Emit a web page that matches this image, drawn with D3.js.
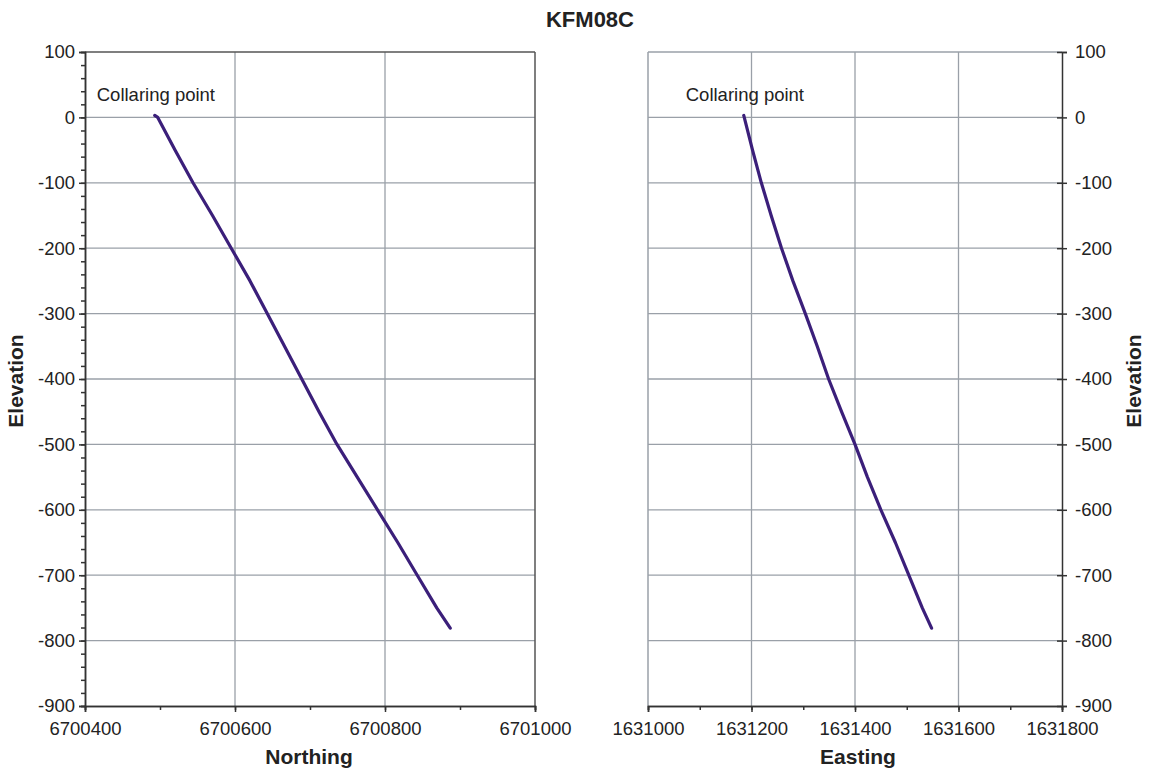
<!DOCTYPE html>
<html>
<head>
<meta charset="utf-8">
<script src="https://cdn.jsdelivr.net/npm/d3@7"></script>
<style>
  body { margin: 0; background: #fff; }
  text { font-family: "Liberation Sans", Arial, sans-serif; fill: #222; }
</style>
</head>
<body>
<svg width="1152" height="769"></svg>
<script>
// borehole KFM08C, elevation vs. northing / easting
const elevation = [3, 0, -50, -100, -150, -200, -250, -300, -350, -400, -450, -500, -550, -600, -650, -700, -750, -781];
const northing = [6700493, 6700497, 6700520, 6700544, 6700570, 6700595, 6700620, 6700643, 6700666, 6700689,
                  6700712, 6700736, 6700763, 6700790, 6700817, 6700843, 6700869, 6700887];
const easting = [1631185, 1631186, 1631202, 1631219, 1631238, 1631258, 1631280, 1631304, 1631327, 1631349,
                 1631374, 1631400, 1631424, 1631450, 1631478, 1631504, 1631530, 1631548];

const yTicks = [100, 0, -100, -200, -300, -400, -500, -600, -700, -800, -900];
const northTicks = [6700400, 6700600, 6700800, 6701000];
const eastTicks = [1631000, 1631200, 1631400, 1631600, 1631800];

var svg = d3.select("svg");
var lineColor = "#3b1f7a", gridColor = "#9aa0a8", axisColor = "#333";
var fmt = d => String(d);   // plain hyphen minus, like the original

var y = d3.scaleLinear().domain([-900, 100]).range([706, 52]);
var xN = d3.scaleLinear().domain([6700400, 6701000]).range([85, 535]);
var xE = d3.scaleLinear().domain([1631000, 1631800]).range([648, 1062]);

function panel(x, xs, ticks, yRight) {
    var g = svg.append("g");
    var x0 = x.range()[0], x1 = x.range()[1];

    // grid
    g.selectAll(".gx").data(ticks.slice(1, -1)).enter().append("line")
        .attr("x1", d => x(d)).attr("x2", d => x(d))
        .attr("y1", y(100)).attr("y2", y(-900))
        .attr("stroke", gridColor).attr("stroke-width", 1.3);
    g.selectAll(".gy").data(yTicks.slice(1, -1)).enter().append("line")
        .attr("x1", x0).attr("x2", x1)
        .attr("y1", d => y(d)).attr("y2", d => y(d))
        .attr("stroke", gridColor).attr("stroke-width", 1.3);

    // frame
    var frame = yRight ? gridColor : "#555";
    var fx = yRight ? x0 : x1;
    g.append("line").attr("x1", fx).attr("x2", fx).attr("y1", y(100)).attr("y2", y(-900)).attr("stroke", frame).attr("stroke-width", 1.5);
    g.append("line").attr("x1", x0).attr("x2", x1).attr("y1", y(100)).attr("y2", y(100)).attr("stroke", frame).attr("stroke-width", 1.5);

    // x axis: major + minor ticks
    var xMinor = d3.axisBottom(x).tickValues(d3.range(x.domain()[0], x.domain()[1] + 1, 100))
        .tickSize(4).tickFormat("");
    g.append("g").attr("transform", "translate(0," + y(-900) + ")").call(xMinor);
    var xAxis = d3.axisBottom(x).tickValues(ticks).tickSize(6).tickPadding(10).tickFormat(fmt);
    var ax = g.append("g").attr("transform", "translate(0," + y(-900) + ")").call(xAxis);
    ax.selectAll("text").attr("font-size", 18.5).attr("fill", "#222");

    // y axis
    if (yRight) {
        var yAxis = d3.axisRight(y).tickValues(yTicks).tickSize(5).tickPadding(8).tickFormat(fmt);
        var ay = g.append("g").attr("transform", "translate(" + x1 + ",0)").call(yAxis);
        ay.selectAll(".tick line").attr("x1", -5);
        ay.selectAll("text").attr("font-size", 18.5).attr("fill", "#222");
    } else {
        var yMinor = d3.axisLeft(y).tickValues(d3.range(-900, 101, 20)).tickSize(4).tickFormat("");
        g.append("g").attr("transform", "translate(" + x0 + ",0)").call(yMinor);
        var yAxis = d3.axisLeft(y).tickValues(yTicks).tickSize(6).tickPadding(4).tickFormat(fmt);
        var ay = g.append("g").attr("transform", "translate(" + x0 + ",0)").call(yAxis);
        ay.selectAll("text").attr("font-size", 18.5).attr("fill", "#222");
    }
    g.selectAll(".domain, .tick line").attr("stroke", axisColor).attr("stroke-width", 1.5);

    // borehole trace
    var pts = elevation.map((e, i) => [xs[i], e]);
    g.append("path").datum(pts)
        .attr("d", d3.line().x(d => x(d[0])).y(d => y(d[1])))
        .attr("fill", "none").attr("stroke", lineColor).attr("stroke-width", 3.2)
        .attr("stroke-linejoin", "round").attr("stroke-linecap", "round");

    g.append("text").attr("x", x(xs[0]) - 58).attr("y", y(0) - 16)
        .attr("font-size", 18.5).text("Collaring point");
    return g;
}

panel(xN, northing, northTicks, false);
panel(xE, easting, eastTicks, true);

svg.append("text").attr("x", 590).attr("y", 27).attr("text-anchor", "middle")
    .attr("font-size", 22).attr("font-weight", "bold").text("KFM08C");
svg.append("text").attr("x", 309).attr("y", 764).attr("text-anchor", "middle")
    .attr("font-size", 21).attr("font-weight", "bold").text("Northing");
svg.append("text").attr("transform", "translate(858,764)").attr("text-anchor", "middle")
    .attr("font-size", 21).attr("font-weight", "bold").text("Easting");
svg.append("text").attr("transform", "translate(23,381) rotate(-90)").attr("text-anchor", "middle")
    .attr("font-size", 21).attr("font-weight", "bold").text("Elevation");
svg.append("text").attr("transform", "translate(1141,381) rotate(-90)").attr("text-anchor", "middle")
    .attr("font-size", 21).attr("font-weight", "bold").text("Elevation");
</script>
</body>
</html>
